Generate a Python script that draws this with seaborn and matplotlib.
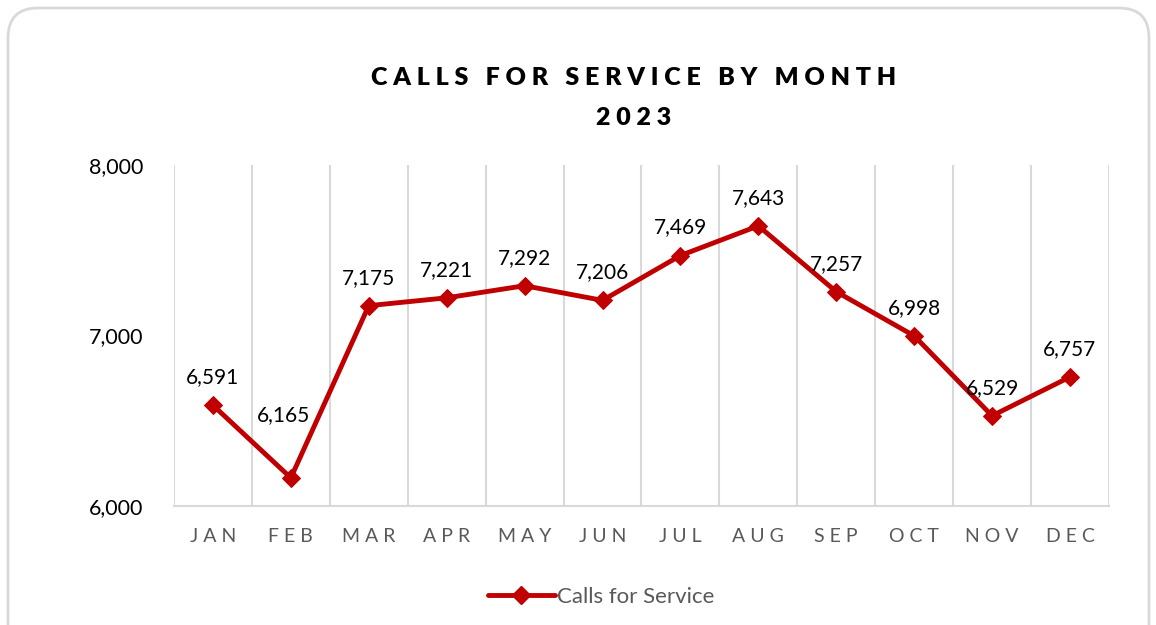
import matplotlib
matplotlib.use('Agg')
import matplotlib.pyplot as plt
from matplotlib.patches import FancyBboxPatch
import seaborn as sns
import pandas as pd

months = ["JAN", "FEB", "MAR", "APR", "MAY", "JUN", "JUL", "AUG", "SEP", "OCT", "NOV", "DEC"]
calls = [6591, 6165, 7175, 7221, 7292, 7206, 7469, 7643, 7257, 6998, 6529, 6757]
yticks = [6000, 7000, 8000]

RED = '#C00000'
GRID = '#d9d9d9'
GRAY = '#595959'

sns.set_theme(style='white')
plt.rcParams['font.family'] = ['Lato', 'DejaVu Sans']


def spaced(s, gap='\u2009'):
    return gap.join(s)


df = pd.DataFrame({'month': range(len(months)), 'calls': calls})

fig = plt.figure(figsize=(11.56, 6.25), dpi=100)

# rounded frame around the chart
bg = fig.add_axes([0, 0, 1, 1])
bg.set_xlim(0, 1156)
bg.set_ylim(625, 0)
bg.axis('off')
bg.add_patch(FancyBboxPatch((8, 8), 1141, 660, boxstyle='round,pad=0,rounding_size=30',
                            fc='white', ec=GRID, lw=2))

ax = fig.add_axes([0.1505, 0.1904, 0.8088, 0.5456])
ax.set_facecolor('none')
sns.lineplot(data=df, x='month', y='calls', ax=ax, color=RED, lw=3.5,
             marker='D', markersize=9, markeredgecolor=RED)

for x, v in zip(df['month'], df['calls']):
    off = (-5, 38) if months[x] == 'FEB' else (0, 13)
    ax.annotate(f'{v:,}', (x, v), xytext=off, textcoords='offset points',
                ha='center', va='bottom', fontsize=15, color='black')

ax.set_xlim(-0.5, len(months) - 0.5)
ax.set_ylim(6000, 8000)
for b in range(len(months) + 1):
    ax.axvline(b - 0.5, color=GRID, lw=1.5, zorder=0)
ax.set_xticks(range(len(months)))
ax.set_xticklabels([spaced(m, ' ') for m in months], fontsize=14, color=GRAY)
ax.set_yticks(yticks)
ax.set_yticklabels([f'{t:,}' for t in yticks], fontsize=15.5, color='black')
ax.tick_params(axis='x', length=0, pad=16)
ax.tick_params(axis='y', length=0, pad=22)
for s in ['top', 'left', 'right']:
    ax.spines[s].set_visible(False)
ax.spines['bottom'].set_color(GRID)
ax.spines['bottom'].set_linewidth(1.5)
ax.set_xlabel('')
ax.set_ylabel('')

fig.text(0.548, 0.875, spaced('CALLS FOR SERVICE BY MONTH', ' '), ha='center', va='center',
         fontsize=18, fontweight='heavy', color='black')
fig.text(0.548, 0.811, spaced('2023', ' '), ha='center', va='center',
         fontsize=18, fontweight='heavy', color='black')

handle = plt.Line2D([], [], color=RED, lw=3.5, marker='D', markersize=9)
fig.legend([handle], ['Calls for Service'], loc='center', bbox_to_anchor=(0.52, 0.045),
           frameon=False, fontsize=16, labelcolor=GRAY, handlelength=3.0, handletextpad=0.1)

plt.savefig('out.png', dpi=100)
plt.close()
